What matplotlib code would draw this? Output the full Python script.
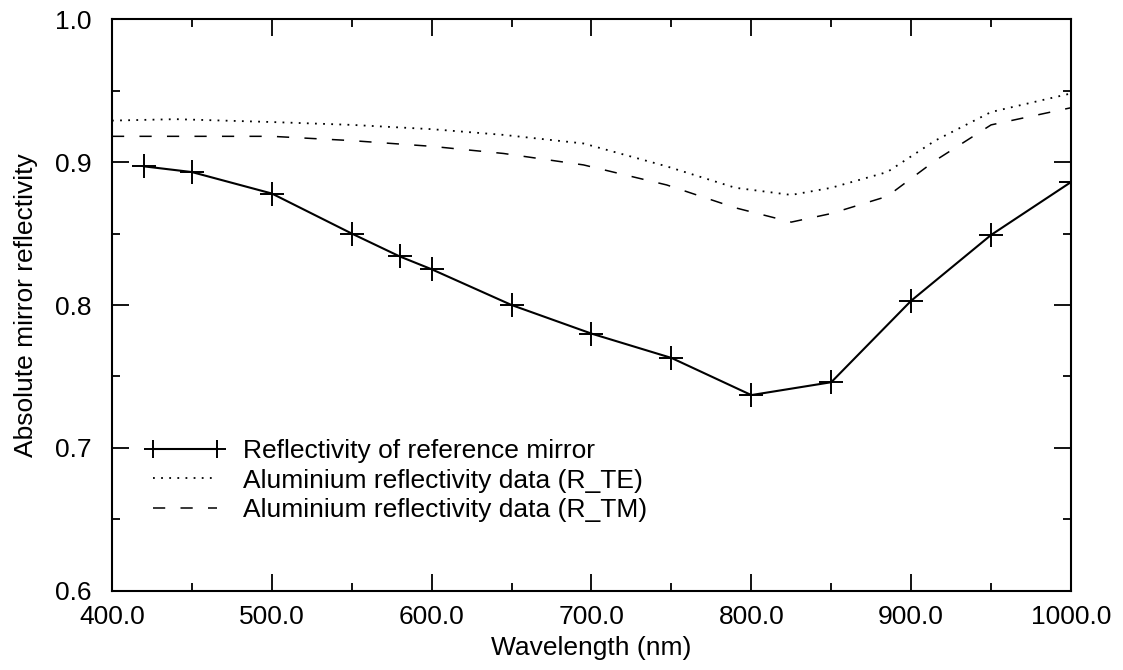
import numpy as np
import matplotlib.pyplot as plt
from matplotlib.ticker import MultipleLocator, FormatStrFormatter

plt.rcParams['font.family'] = ['Liberation Sans', 'DejaVu Sans']

# mesures sur le miroir de reference
wl_ref = [420, 450, 500, 550, 580, 600, 650, 700, 750, 800, 850, 900, 950, 1000]
r_ref = [0.897, 0.893, 0.878, 0.850, 0.834, 0.825, 0.800, 0.780, 0.763,
         0.737, 0.746, 0.803, 0.849, 0.886]

# donnees aluminium
wl_al = [400, 440, 500, 550, 600, 645, 695, 747, 790, 825, 850, 885, 915, 950, 1000]
r_te = [0.929, 0.930, 0.928, 0.926, 0.923, 0.919, 0.913, 0.897, 0.882, 0.877,
        0.882, 0.893, 0.915, 0.935, 0.948]
r_tm = [0.918, 0.918, 0.918, 0.915, 0.911, 0.906, 0.898, 0.884, 0.868, 0.858,
        0.864, 0.876, 0.901, 0.926, 0.938]

fs = 19

fig = plt.figure(figsize=(11.23, 6.70), dpi=100)
ax = fig.add_axes([0.0997, 0.118, 0.854, 0.8535])

ax.plot(wl_ref, r_ref, '-', color='black', lw=1.5, marker='+', ms=17, mew=1.4,
        label='Reflectivity of reference mirror')
ax.plot(wl_al, r_te, color='black', lw=1.3, dashes=(1, 3.5),
        label='Aluminium reflectivity data (R_TE)')
ax.plot(wl_al, r_tm, color='black', lw=1.1, dashes=(8, 10),
        label='Aluminium reflectivity data (R_TM)')

ax.set_xlim(400, 1000)
ax.set_ylim(0.6, 1.0)
ax.xaxis.set_major_locator(MultipleLocator(100))
ax.xaxis.set_minor_locator(MultipleLocator(50))
ax.yaxis.set_major_locator(MultipleLocator(0.1))
ax.yaxis.set_minor_locator(MultipleLocator(0.05))
ax.xaxis.set_major_formatter(FormatStrFormatter('%.1f'))
ax.yaxis.set_major_formatter(FormatStrFormatter('%.1f'))
ax.tick_params(which='both', direction='in', top=True, right=True,
               labelsize=fs, width=1.3)
ax.tick_params(which='major', length=12)
ax.tick_params(which='minor', length=6)
ax.tick_params(axis='x', which='major', pad=10)
ax.tick_params(axis='y', which='major', pad=15)
for s in ax.spines.values():
    s.set_linewidth(1.5)

ax.set_xlabel('Wavelength (nm)', fontsize=fs, labelpad=5)
ax.set_ylabel('Absolute mirror reflectivity', fontsize=fs, labelpad=12)

ax.legend(loc='upper left', bbox_to_anchor=(0.035, 0.265), frameon=False,
          fontsize=fs, handlelength=3.0, handletextpad=0.7, numpoints=2,
          markerscale=0.8, labelspacing=0.2, borderpad=0, borderaxespad=0)

fig.savefig('out.png', dpi=100)
